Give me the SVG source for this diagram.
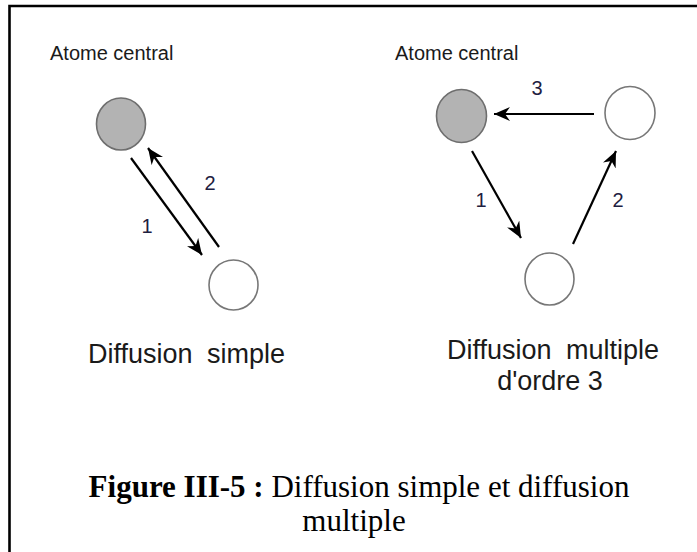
<svg xmlns="http://www.w3.org/2000/svg" width="697" height="552" viewBox="0 0 697 552">
<style>
.lbl{font-family:"Liberation Sans",Arial,sans-serif;fill:#1a1a1a}
.cap{font-family:"Liberation Serif","Times New Roman",serif;fill:#000;font-size:31px}
.center{fill:#b3b3b3;stroke:#6e6e6e;stroke-width:1.6}
.atom{fill:#fff;stroke:#777;stroke-width:1.6}
.arr{stroke:#000;stroke-width:2.2;fill:none;marker-end:url(#ah)}
.num{font-family:"Liberation Sans",Arial,sans-serif;font-size:20px;fill:#1e2040;text-anchor:middle}
</style>
<defs>
<marker id="ah" markerUnits="userSpaceOnUse" markerWidth="17" markerHeight="14" refX="16" refY="7" orient="auto" viewBox="0 0 17 14">
<path d="M0,0 L16,7 L0,14 L5,7 z" fill="#000"/>
</marker>
</defs>
<rect width="697" height="552" fill="#fff"/>
<path d="M9.5,560 V6 H705" fill="none" stroke="#000" stroke-width="2.6"/>

<g id="left-labels">
<text class="lbl" x="50" y="60" font-size="20">Atome central</text>
<text class="lbl" x="88" y="363" font-size="27" word-spacing="7">Diffusion simple</text>
</g>
<g id="left-center"><ellipse class="center" cx="121" cy="124" rx="24.5" ry="26"/></g>
<g id="left-atom"><ellipse class="atom" cx="233.5" cy="285" rx="24.5" ry="25"/></g>

<g id="right-labels">
<text class="lbl" x="395" y="60" font-size="20">Atome central</text>
<text class="lbl" x="553" y="359" font-size="27" word-spacing="7" text-anchor="middle">Diffusion multiple</text>
<text class="lbl" x="550" y="390" font-size="27" text-anchor="middle">d'ordre 3</text>
</g>
<g id="right-center"><ellipse class="center" cx="461.5" cy="116" rx="25" ry="26.5"/></g>
<g id="right-atom-top"><ellipse class="atom" cx="630" cy="113" rx="25" ry="26.5"/></g>
<g id="right-atom-bottom"><ellipse class="atom" cx="549.5" cy="279" rx="24.5" ry="26"/></g>

<g id="connectors">
<line class="arr" x1="131" y1="158" x2="202" y2="255"/>
<line class="arr" x1="219" y1="247" x2="148" y2="148"/>
<line class="arr" x1="472" y1="151" x2="521" y2="238"/>
<line class="arr" x1="573" y1="244" x2="616" y2="151"/>
<line class="arr" x1="594" y1="114" x2="494" y2="114"/>
<text class="num" x="147" y="233">1</text>
<text class="num" x="210" y="190">2</text>
<text class="num" x="481" y="207">1</text>
<text class="num" x="618" y="207">2</text>
<text class="num" x="537" y="95">3</text>
</g>

<g id="caption">
<text class="cap" x="359" y="497" text-anchor="middle"><tspan font-weight="bold">Figure III-5 :</tspan> Diffusion simple et diffusion</text>
<text class="cap" x="354" y="531" text-anchor="middle">multiple</text>
</g>
</svg>
